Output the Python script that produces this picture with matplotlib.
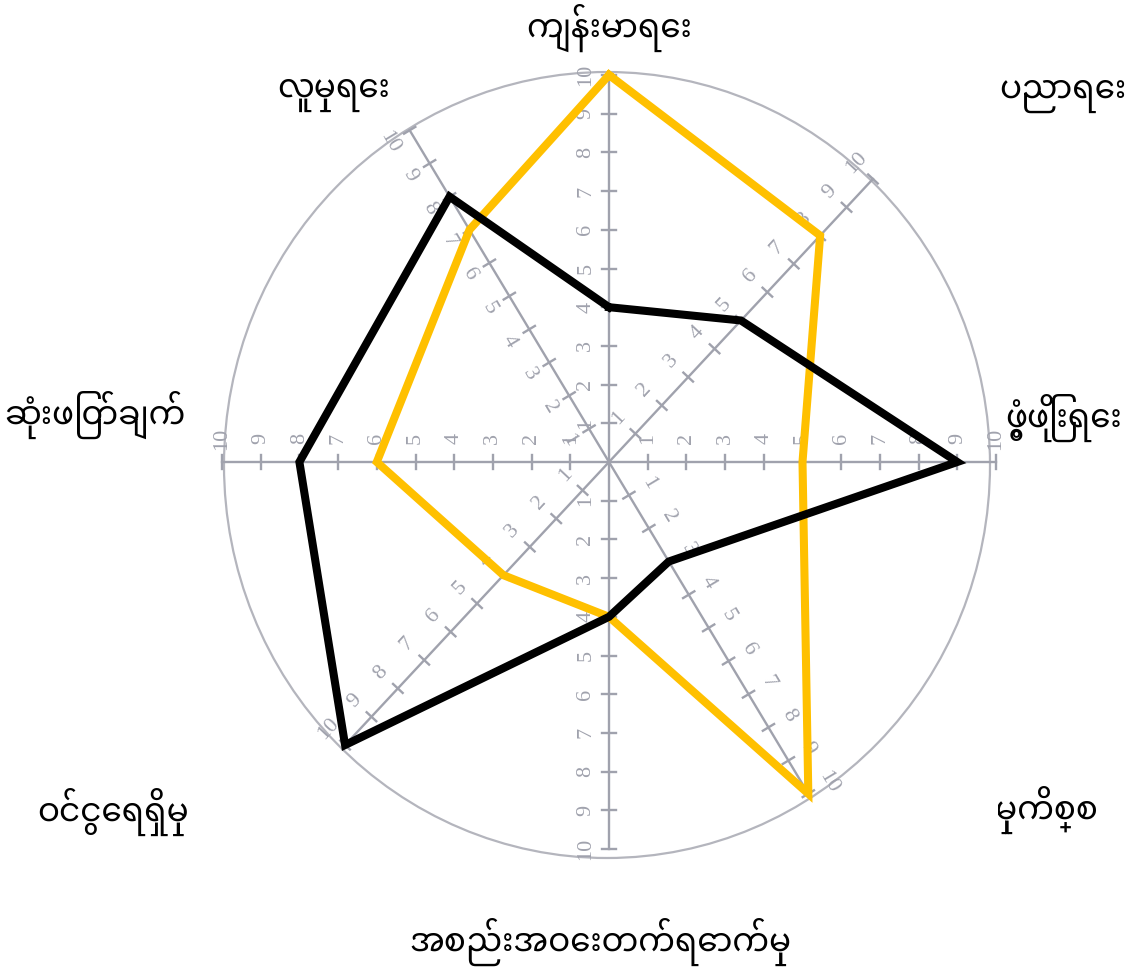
import matplotlib
matplotlib.use('Agg')
import matplotlib.pyplot as plt
from matplotlib import font_manager as fm
from matplotlib.ft2font import FT2Font
from matplotlib.patches import Ellipse, Rectangle
import numpy as np

# ---- data ----
categories = ['ကျန်းမာရေး', 'ပညာရေး', 'ဖွံ့ဖြိုးရေး', 'ဆက်ဆံမှုကိစ္စ',
              'အစည်းအဝေးတက်ရောက်မှု', 'ဝင်ငွေရရှိမှု', 'ဆုံးဖြတ်ချက်', 'လူမှုရေး']
yellow_values = [10, 8, 5, 10, 4, 4, 6, 7]
black_values = [4, 5, 9, 3, 4, 10, 8, 8]
tick_values = list(range(1, 11))

# ---- layout / style ----
axis_angles = [90, 47, 0, -59, -90, -133, 180, 121]
label_side = [1, 1, 1, 1, -1, -1, -1, 1]
digit_rot = [90, 47, 90, -59, 90, 47, 90, -59]
S = 38.7
CX, CY = 609, 462
W, H = 1136, 971


def pick_myanmar_font():
    cands = []
    for f in fm.findSystemFonts():
        try:
            ft = FT2Font(f)
            if ord('က') in ft.get_charmap():
                cands.append(f)
        except Exception:
            pass
    pref = ['NotoSansMyanmar-Regular', 'NotoSansMyanmar[', 'NotoSansMyanmarUI-Regular',
            'NotoSansMyanmar', 'Padauk', 'Myanmar']
    for p in pref:
        for f in cands:
            if p.lower() in f.lower():
                return f
    return cands[0] if cands else None


mfile = pick_myanmar_font()
my_family = None
if mfile:
    try:
        fm.fontManager.addfont(mfile)
        my_family = fm.FontProperties(fname=mfile).get_name()
    except Exception:
        my_family = None

fig = plt.figure(figsize=(W / 100, H / 100), dpi=100)
ax = fig.add_axes([0, 0, 1, 1])
ax.set_xlim(-CX / S, (W - CX) / S)
ax.set_ylim(-(H - CY) / S, CY / S)
ax.axis('off')


def px(x, y):
    return ((x - CX) / S, (CY - y) / S)


gray = '#a0a2ad'
ax.add_patch(Ellipse(px(607, 465), 2 * 383 / S, 2 * 393 / S, fill=False,
                     ec='#b4b5bd', lw=1.6, zorder=1))

for ang, side, rot in zip(axis_angles, label_side, digit_rot):
    t = np.deg2rad(ang)
    d = np.array([np.cos(t), np.sin(t)])
    n = np.array([-d[1], d[0]]) * side
    ax.plot([0, 10 * d[0]], [0, 10 * d[1]], color=gray, lw=1.7, zorder=2)
    for v in tick_values:
        p = v * d
        a = p - 0.17 * n
        b = p + 0.17 * n
        ax.plot([a[0], b[0]], [a[1], b[1]], color=gray, lw=1.7, zorder=2)
        q = p + 0.6 * n
        ax.text(q[0], q[1], str(v), ha='center', va='center', color=gray,
                fontsize=16, family='Liberation Serif', rotation=rot,
                rotation_mode='anchor', zorder=2)


def poly(vals, color):
    xs, ys = [], []
    for v, ang in zip(vals, axis_angles):
        t = np.deg2rad(ang)
        xs.append(v * np.cos(t))
        ys.append(v * np.sin(t))
    xs.append(xs[0]); ys.append(ys[0])
    ax.plot(xs, ys, color=color, lw=5.8, solid_joinstyle='miter', zorder=3)


poly(yellow_values, '#FFC000')
poly(black_values, '#000000')

# label anchor (x, y, ha) in reference pixels, plus optional left clip edge
label_pos = [(609, 28, 'center', None), (1063, 96, 'center', None),
             (1122, 418, 'right', 998), (1098, 810, 'right', 998),
             (600, 942, 'center', None), (113, 812, 'center', None),
             (95, 415, 'center', None), (334, 95, 'center', None)]
fam = [my_family, 'DejaVu Sans'] if my_family else ['DejaVu Sans']
for txt, (x, y, ha, clipx) in zip(categories, label_pos):
    tx, ty = px(x, y)
    tt = ax.text(tx, ty, txt, ha=ha, va='center', fontsize=23.5, family=fam, color='black')
    if clipx is not None:
        cx0, _ = px(clipx, 0)
        r = Rectangle((cx0, -50), 100, 100, transform=ax.transData)
        tt.set_clip_path(r)
        tt.set_clip_on(True)

fig.savefig('out.png', dpi=100)
